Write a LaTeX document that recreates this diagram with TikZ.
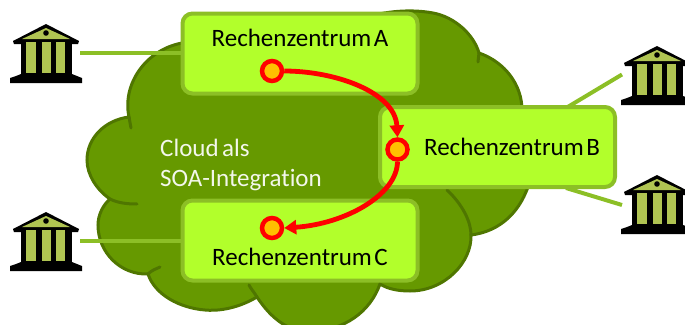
\documentclass[tikz,border=0pt]{standalone}
\usepackage{fontspec}
\setmainfont[Ligatures=NoCommon]{Carlito}
\usetikzlibrary{arrows.meta,calc}
\definecolor{cloudfill}{HTML}{669900}
\definecolor{cloudedge}{HTML}{4F7600}
\definecolor{boxfill}{HTML}{B2FF2B}
\definecolor{boxedge}{HTML}{8CBF26}
\definecolor{portfill}{HTML}{FFC000}
\definecolor{columnfill}{HTML}{B0C452}
\tikzset{
  rzbox/.style={draw=boxedge,fill=boxfill,line width=4pt,rounded corners=10pt,minimum width=235pt,minimum height=80pt,inner sep=0pt},
  rzlabel/.style={font=\fontsize{25}{29}\selectfont,text=black,inner sep=0pt,execute at begin node={\spaceskip=.1em\relax}},
  cloudlabel/.style={font=\fontsize{25}{30}\selectfont,text=white!92!cloudfill,inner sep=0pt,align=left,anchor=west,execute at begin node={\spaceskip=.14em\relax}},
  port/.style={circle,draw=red,fill=portfill,line width=4.5pt,minimum size=20pt,inner sep=0pt},
  flow/.style={draw=red,line width=4.8pt,-{Triangle[length=12pt,width=14pt]}},
  link/.style={draw=boxedge,line width=4pt},
  lobe/.style={draw=cloudedge,line width=3pt,line cap=round},
  bank/.pic={
    \fill[black] (-33,17) -- (0,0) -- (33,17) -- (32,20) -- (-32,20) -- cycle;
    \fill[black] (-25,18) rectangle (26,53);
    \fill[black] (-36,54) -- (-30,52) -- (-25,50) -- (26,50) -- (31,52) -- (36,54) -- (36,59) -- (-36,59) -- cycle;
    \fill[columnfill] (-24,15) -- (0,4) -- (24,15) -- cycle;
    \fill[black] (0,9) circle (2.8);
    \fill[columnfill] (-20,18) rectangle (-10.5,49);
    \fill[columnfill] (-4.5,18) rectangle (4.5,49);
    \fill[columnfill] (10,18) rectangle (19,49);
  }
}
\begin{document}
\begin{tikzpicture}[x=1pt,y=-1pt]
\useasboundingbox (0,0) rectangle (685,324);
\clip (0,0) rectangle (685,324);
% cloud body
\fill[cloudfill,draw=cloudedge,line width=3pt]
  (300,60)
  .. controls (330,20) and (390,5) .. (433,13)
  .. controls (455,17) and (474,35) .. (479,53)
  .. controls (505,62) and (522,85) .. (522,110)
  .. controls (532,150) and (532,180) .. (526,192)
  .. controls (515,218) and (495,232) .. (471,235)
  .. controls (472,262) and (445,291) .. (410,291)
  .. controls (398,291) and (388,289) .. (380,284)
  .. controls (370,312) and (345,330) .. (310,332)
  .. controls (290,332) and (272,320) .. (257,297)
  .. controls (235,310) and (215,311) .. (205,310)
  .. controls (180,308) and (155,295) .. (148,274)
  .. controls (120,275) and (98,252) .. (98,225)
  .. controls (98,215) and (103,205) .. (110,199)
  .. controls (97,190) and (87,175) .. (87,160)
  .. controls (87,138) and (105,120) .. (129,117)
  .. controls (122,85) and (145,50) .. (182,43)
  .. controls (220,30) and (270,30) .. (300,60) -- cycle;
% inner lobe ends
\draw[lobe] (129,117) -- (131,128);
\draw[lobe] (110,199) .. controls (118,203) and (127,204) .. (137,204);
\draw[lobe] (148,274) .. controls (152,270) and (156,269) .. (160,267);
\draw[lobe] (257,297) .. controls (254,292) and (251,289) .. (249,285);
\draw[lobe] (479,53) .. controls (479,56) and (478,59) .. (478,62);
\draw[lobe] (471,235) .. controls (471,222) and (463,205) .. (447,190);
% banks
\pic at (46,24) {bank};
\pic at (46,212) {bank};
\pic at (657,46) {bank};
\pic at (657,175) {bank};
\coordinate (bankA) at (80,53);
\coordinate (bankC) at (80,240.5);
\coordinate (bankB1) at (622,74.5);
\coordinate (bankB2) at (622,205);
\coordinate (boxB1) at (566,108);
\coordinate (boxB2) at (566,188);
% links
\draw[link] (bankB1) -- (boxB1);
\draw[link] (bankB2) -- (boxB2);
% boxes
\node[rzbox] (boxA) at (300,53.5) {};
\node[rzbox] (boxB) at (497.5,147) {};
\node[rzbox] (boxC) at (300,240.5) {};
\draw[link] (bankA) -- (bankA -| boxA.west);
\draw[link] (bankC) -- (bankC -| boxC.west);
% labels
\node[rzlabel] (labA) at (300,38) {Rechenzentrum A};
\node[rzlabel] (labB) at (512,147) {Rechenzentrum B};
\node[rzlabel] (labC) at (300,257) {Rechenzentrum C};
\node[cloudlabel] (cloudtext) at (160,165) {Cloud als\\SOA-Integration};
% ports
\node[port] (portA) at (272,71) {};
\node[port] (portB) at (397.5,149.5) {};
\node[port] (portC) at (272,228) {};
\draw[flow] (portA.east) .. controls (335,71) and (395,92) .. (portB.north);
\draw[flow] (portB.south) .. controls (397,195) and (345,224) .. (portC.east);
\end{tikzpicture}
\end{document}
